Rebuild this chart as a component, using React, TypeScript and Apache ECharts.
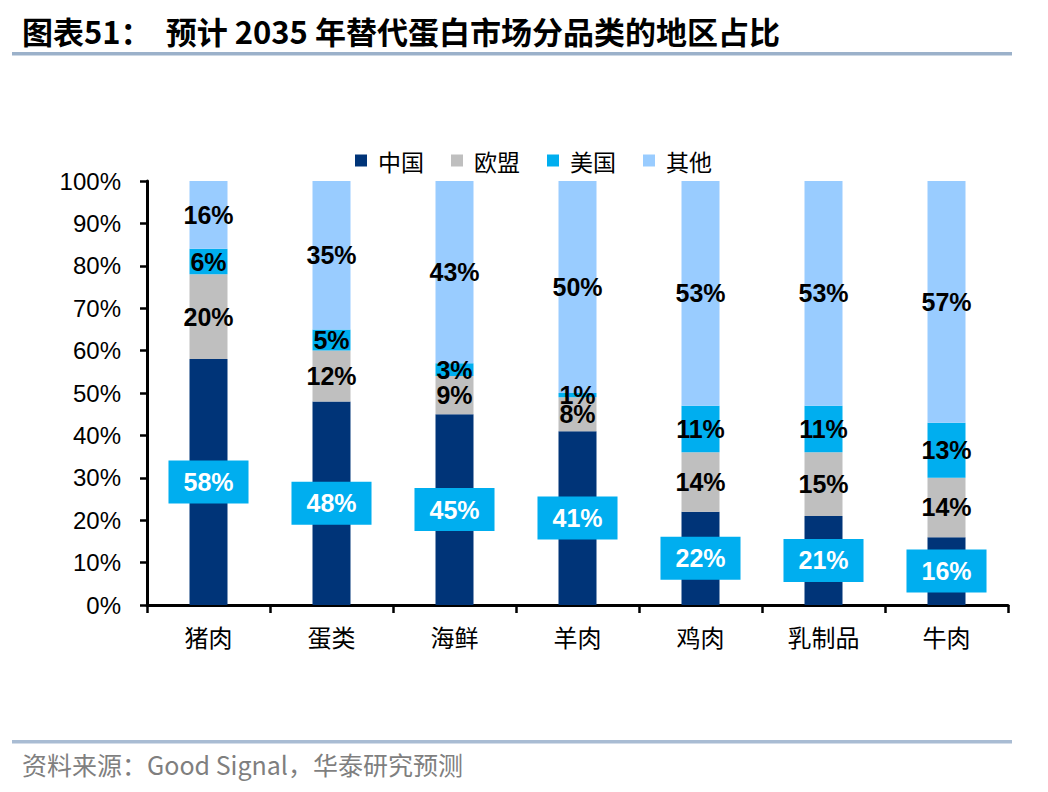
import React, { useEffect, useRef } from "react";
import * as echarts from "echarts";

const categories = ["猪肉", "蛋类", "海鲜", "羊肉", "鸡肉", "乳制品", "牛肉"];
const chinaValues = [58, 48, 45, 41, 22, 21, 16];
const euValues = [20, 12, 9, 8, 14, 15, 14];
const usValues = [6, 5, 3, 1, 11, 11, 13];
const otherValues = [16, 35, 43, 50, 53, 53, 57];
const seriesNames = ["中国", "欧盟", "美国", "其他"];

const TITLE = "图表51：  预计 2035 年替代蛋白市场分品类的地区占比";
const SOURCE = "资料来源：Good Signal，华泰研究预测";

const COLORS = ["#003478", "#BFBFBF", "#00AEEF", "#99CCFF"];
const CJK = '"Noto Sans CJK SC", sans-serif';
const LATIN = '"Liberation Sans", Arial, sans-serif';

export default function App() {
  const ref = useRef<HTMLDivElement>(null);
  useEffect(() => {
    document.body.style.margin = "0";
    if (!ref.current) return;
    const chart = echarts.init(ref.current, null, { renderer: "svg" });
    const blackLabel = {
      show: true,
      position: "inside",
      formatter: "{c}%",
      color: "#000",
      fontSize: 25,
      fontWeight: "bold",
      fontFamily: LATIN,
    };
    const dataSets = [chinaValues, euValues, usValues, otherValues];
    const series = dataSets.map((d, i) => ({
      name: seriesNames[i],
      type: "bar",
      stack: "total",
      barWidth: 38,
      data: d,
      itemStyle: { color: COLORS[i] },
      label:
        i === 0
          ? {
              show: true,
              position: "inside",
              formatter: "{c}%",
              color: "#fff",
              fontSize: 25,
              fontWeight: "bold",
              fontFamily: LATIN,
              backgroundColor: "#00AEEF",
              padding: [10, 15, 8, 15],
            }
          : blackLabel,
    }));
    chart.setOption({
      animation: false,
      legend: {
        left: 350,
        top: 144,
        itemWidth: 12,
        itemHeight: 12,
        itemGap: 27,
        icon: "rect",
        textStyle: {
          fontSize: 23,
          fontFamily: CJK,
          color: "#000",
          padding: [0, 0, 0, 6],
        },
        data: seriesNames,
      },
      grid: { left: 147, right: 40, top: 181, bottom: 187 },
      xAxis: {
        type: "category",
        data: categories,
        axisLine: { lineStyle: { color: "#000", width: 3 } },
        axisTick: { show: true, length: 8, lineStyle: { color: "#000", width: 2.5 } },
        axisLabel: { fontSize: 24, fontFamily: CJK, color: "#000", margin: 19 },
      },
      yAxis: {
        type: "value",
        min: 0,
        max: 100,
        interval: 10,
        splitLine: { show: false },
        axisLine: { show: true, lineStyle: { color: "#000", width: 3 } },
        axisTick: { show: true, length: 7, lineStyle: { color: "#000", width: 2.5 } },
        axisLabel: {
          formatter: "{value}%",
          fontSize: 24,
          fontFamily: LATIN,
          color: "#000",
          margin: 26,
        },
      },
      graphic: [
        {
          type: "text",
          left: 22,
          top: 15,
          style: {
            text: TITLE,
            font: `bold 31px ${CJK}`,
            fill: "#000",
          },
        },
        {
          type: "rect",
          shape: { x: 12, y: 52, width: 1000, height: 3.5 },
          style: { fill: "#9BB1CA" },
        },
        {
          type: "rect",
          shape: { x: 12, y: 740, width: 1000, height: 3.5 },
          style: { fill: "#A9BCD3" },
        },
        {
          type: "text",
          left: 22,
          top: 751,
          style: {
            text: SOURCE,
            font: `25px ${CJK}`,
            fill: "#7F7F7F",
          },
        },
      ],
      series,
    });
    return () => chart.dispose();
  }, []);
  return <div ref={ref} style={{ width: 1048, height: 792 }} />;
}
